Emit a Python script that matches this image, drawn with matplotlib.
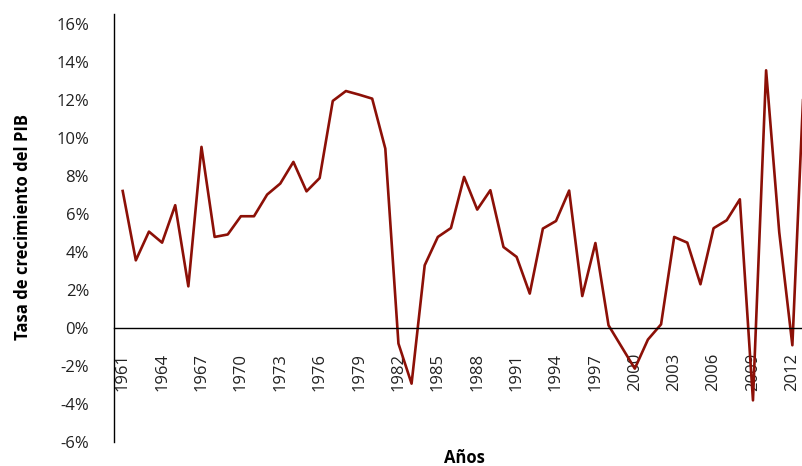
import numpy as np
import matplotlib.pyplot as plt
from matplotlib.ticker import FuncFormatter

plt.rcParams['font.family'] = ['Open Sans', 'DejaVu Sans']

years = list(range(1961, 2014))
growth = [7.20, 3.55, 5.06, 4.48, 6.45, 2.18, 9.52, 4.78, 4.91, 5.87,
          5.87, 7.01, 7.59, 8.73, 7.18, 7.88, 11.94, 12.46, 12.27, 12.06,
          9.43, -0.83, -2.94, 3.29, 4.78, 5.25, 7.94, 6.22, 7.24, 4.25,
          3.73, 1.80, 5.22, 5.62, 7.22, 1.67, 4.46, 0.13, -1.01, -2.15,
          -0.62, 0.18, 4.78, 4.48, 2.29, 5.24, 5.66, 6.76, -3.82, 13.55,
          5.03, -0.92, 15.0]
xticks = list(range(1961, 2013, 3))
yticks = list(range(-6, 17, 2))

fig = plt.figure(figsize=(8.03, 4.66), dpi=100)
ax = fig.add_axes([0.142, 0.052, 0.858, 0.919])

ax.plot(years, growth, color="#8c1007", linewidth=1.9)

ax.set_xlim(1960.34, 2012.81)
ax.set_ylim(-6, 16.54)

ax.spines['top'].set_visible(False)
ax.spines['right'].set_visible(False)
ax.spines['bottom'].set_position(('data', 0))
ax.spines['bottom'].set_linewidth(1.0)
ax.spines['left'].set_linewidth(1.0)

ax.set_xticks(xticks)
ax.set_xticklabels([str(y) for y in xticks], rotation=90)
ax.set_yticks(yticks)
ax.yaxis.set_major_formatter(FuncFormatter(lambda v, p: f"{int(v)}%"))
ax.tick_params(axis='x', length=0, pad=18, labelsize=12, colors='#222222')
ax.tick_params(axis='y', length=0, pad=18, labelsize=12, colors='#222222')

ax.set_ylabel("Tasa de crecimiento del PIB", fontsize=12, fontweight='bold')
ax.yaxis.set_label_coords(-0.119, 0.502)
ax.set_xlabel("Años", fontsize=12, fontweight='bold')
ax.xaxis.set_label_coords(0.508, -0.016)

fig.savefig("out.png", dpi=100)
